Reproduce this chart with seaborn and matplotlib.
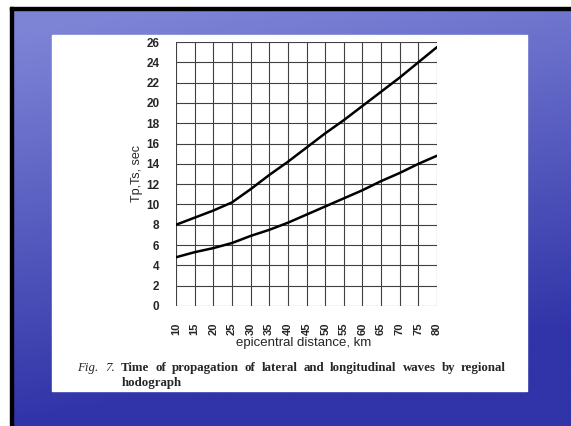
import numpy as np
import pandas as pd
import matplotlib
matplotlib.use("Agg")
import matplotlib.pyplot as plt
import seaborn as sns
from matplotlib.patches import Rectangle

distance_km = [10, 15, 20, 25, 30, 35, 40, 45, 50, 55, 60, 65, 70, 75, 80]
ts_sec = [8.0, 8.7, 9.4, 10.2, 11.5, 12.9, 14.2, 15.6, 17.0, 18.3, 19.7, 21.1, 22.5, 24.0, 25.5]
tp_sec = [4.8, 5.3, 5.7, 6.2, 6.9, 7.5, 8.2, 9.0, 9.8, 10.6, 11.4, 12.3, 13.1, 14.0, 14.8]
x_ticks = list(range(10, 85, 5))
y_ticks = list(range(0, 28, 2))

df = pd.DataFrame({
    "distance": distance_km * 2,
    "time": ts_sec + tp_sec,
    "wave": ["Ts"] * len(distance_km) + ["Tp"] * len(distance_km),
})

sns.set_style("white")
W, H = 571, 426
fig = plt.figure(figsize=(W / 100, H / 100), dpi=100)

# slide background
bg = fig.add_axes([0, 0, 1, 1])
yy = np.linspace(0, 1, 200)[:, None]
xx = np.linspace(0, 1, 300)[None, :]
top = np.array([125, 132, 214]) / 255
bot = np.array([48, 52, 168]) / 255
t = np.clip(yy * 1.1 + 0.25 * xx - 0.1, 0, 1)
t = t[..., None]
img = top * (1 - t) + bot * t
bg.imshow(img, extent=[0, 1, 0, 1], aspect="auto", origin="upper")
bg.set_xlim(0, 1)
bg.set_ylim(0, 1)
bg.axis("off")
# outer white margin and black frame
bg.add_patch(Rectangle((0, 0), 10 / W, 1, color="white", zorder=2))
bg.add_patch(Rectangle((0, 1 - 7 / H), 1, 7 / H, color="white", zorder=2))
bg.add_patch(Rectangle((10 / W, 0), 3 / W, 1 - 7 / H, color="black", zorder=3))
bg.add_patch(Rectangle((10 / W, 1 - 10 / H), 1, 3 / H, color="black", zorder=3))
# white content box
bg.add_patch(Rectangle((52 / W, 1 - 391 / H), (527 - 52) / W, (391 - 35) / H,
                       color="white", zorder=2))

# main chart
L, R, T, B = 176, 437, 42, 306
ax = fig.add_axes([L / W, 1 - B / H, (R - L) / W, (B - T) / H])
sns.lineplot(data=df, x="distance", y="time", hue="wave",
             palette={"Ts": "black", "Tp": "black"}, linewidth=1.8,
             legend=False, ax=ax)
ax.set_xlim(10, 80)
ax.set_ylim(0, 26)
ax.set_xticks(x_ticks)
ax.set_yticks(y_ticks)
ax.set_xticklabels([str(v) for v in x_ticks], rotation=90,
                   fontsize=8, fontweight="bold", family="Liberation Sans")
ax.set_yticklabels([str(v) for v in y_ticks],
                   fontsize=8.5, fontweight="bold", family="Liberation Sans")
ax.grid(True, color="#404040", linewidth=0.8)
ax.set_axisbelow(True)
for s in ax.spines.values():
    s.set_visible(False)
ax.tick_params(axis="x", length=5, width=0.8, color="#404040", pad=7)
ax.tick_params(axis="y", length=4, width=0.8, color="#404040", pad=8)
ax.set_xlabel("epicentral distance, km", fontsize=9.5, family="Liberation Sans")
ax.xaxis.set_label_coords(((L + R) / 2 - 3 - L) / (R - L), (B - 343) / (B - T))
ax.xaxis.label.set_va("center")
ax.set_ylabel("Tp,Ts, sec", fontsize=9, family="Liberation Sans")
ax.yaxis.set_label_coords((137 - L) / (R - L), (B - 173) / (B - T))
ax.yaxis.label.set_va("center")
ax.set_facecolor("white")

# caption
cap_fs = 9.3
y1 = 1 - 368 / H
y2 = 1 - 383 / H
fig.text(77 / W, y1, "Fig.", fontsize=cap_fs, style="italic",
         family="Liberation Serif", va="center", ha="left")
fig.text(105 / W, y1, "7.", fontsize=cap_fs, style="italic",
         family="Liberation Serif", va="center", ha="left")
words = ["Time", "of", "propagation", "of", "lateral", "and",
         "longitudinal", "waves", "by", "regional"]
renderer = fig.canvas.get_renderer()
texts = []
for w in words:
    texts.append(fig.text(0, y1, w, fontsize=cap_fs, fontweight="bold",
                          family="Liberation Serif", va="center", ha="left"))
widths = [tt.get_window_extent(renderer).width for tt in texts]
x0, x1 = 121, 506
gap = (x1 - x0 - sum(widths)) / (len(words) - 1)
cx = x0
for tt, wdt in zip(texts, widths):
    tt.set_x(cx / W)
    cx += wdt + gap
fig.text(122 / W, y2, "hodograph", fontsize=cap_fs, fontweight="bold",
         family="Liberation Serif", va="center", ha="left")

fig.savefig("out.png", dpi=100)
